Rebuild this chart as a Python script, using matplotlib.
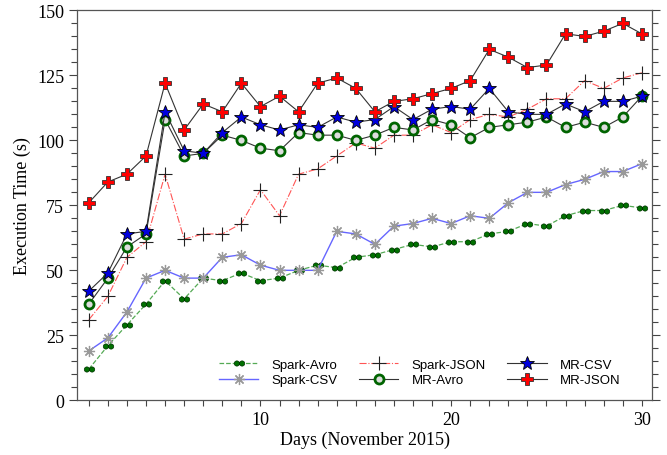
import matplotlib
matplotlib.use("Agg")
import matplotlib.pyplot as plt
import numpy as np
from matplotlib.path import Path
from matplotlib.ticker import MultipleLocator

days = np.arange(1, 31)

spark_avro = [12, 21, 29, 37, 46, 39, 47, 46, 49, 46, 47, 50, 52, 51, 55,
              56, 58, 60, 59, 61, 61, 64, 65, 68, 67, 71, 73, 73, 75, 74]
spark_csv = [19, 24, 34, 47, 50, 47, 47, 55, 56, 52, 50, 50, 50, 65, 64,
             60, 67, 68, 70, 68, 71, 70, 76, 80, 80, 83, 85, 88, 88, 91]
spark_json = [31, 40, 55, 61, 87, 62, 64, 64, 68, 81, 71, 87, 89, 94, 99,
              97, 102, 102, 106, 103, 108, 110, 109, 112, 116, 116, 123, 120, 124, 126]
mr_avro = [37, 47, 59, 64, 108, 94, 95, 102, 100, 97, 96, 103, 102, 102, 100,
           102, 105, 104, 108, 106, 101, 105, 106, 107, 109, 105, 107, 105, 109, 117]
mr_csv = [42, 49, 64, 65, 111, 96, 95, 103, 109, 106, 104, 106, 105, 109, 107,
          108, 113, 108, 112, 113, 112, 120, 111, 110, 110, 114, 111, 115, 115, 117]
mr_json = [76, 84, 87, 94, 122, 104, 114, 111, 122, 113, 117, 111, 122, 124, 120,
           111, 115, 116, 118, 120, 123, 135, 132, 128, 129, 141, 140, 142, 145, 141]

# two small dots side by side
c1 = Path.circle((-0.5, 0), 0.5)
c2 = Path.circle((0.5, 0), 0.5)
two_dots = Path.make_compound_path(c1, c2)

plt.rcParams['font.family'] = ['Liberation Serif', 'DejaVu Serif']

fig = plt.figure(figsize=(6.67, 4.56), dpi=100)
ax = fig.add_axes([0.116, 0.12, 0.862, 0.855])

ax.plot(days, spark_avro, '--', color='#55aa55', lw=0.9, marker=two_dots,
        ms=7.5, mfc='#007000', mec='#003300', mew=0.5, label='Spark-Avro')
ax.plot(days, spark_csv, '-', color='#6666ff', lw=1.0, marker=(8, 2, 0),
        ms=8, mec='#999999', mew=0.9, label='Spark-CSV')
ax.plot(days, spark_json, '-.', color='#ff5555', lw=0.8, marker='+',
        ms=10, mec='#222222', mew=0.8, label='Spark-JSON')
ax.plot(days, mr_avro, '-', color='#333333', lw=0.8, marker='o',
        ms=6.5, mfc='#dddddd', mec='#006400', mew=2.0, label='MR-Avro')
ax.plot(days, mr_csv, '-', color='#333333', lw=0.8, marker='*',
        ms=10, mfc='#0000dd', mec='black', mew=0.6, label='MR-CSV')
ax.plot(days, mr_json, '-', color='#333333', lw=0.8, marker='P',
        ms=9, mfc='red', mec='#333333', mew=0.6, label='MR-JSON')

ax.set_xlim(0.4, 30.55)
ax.set_ylim(0, 150)
ax.xaxis.set_major_locator(MultipleLocator(10))
ax.xaxis.set_minor_locator(MultipleLocator(1))
ax.yaxis.set_major_locator(MultipleLocator(25))
ax.yaxis.set_minor_locator(MultipleLocator(5))
ax.tick_params(axis='both', which='major', labelsize=13, direction='out',
               length=6, width=0.8, color='#444444')
ax.tick_params(axis='both', which='minor', direction='out', length=4,
               width=0.8, color='#444444')
ax.tick_params(axis='y', which='both', right=True)
ax.tick_params(axis='x', which='major', length=4)
for s in ax.spines.values():
    s.set_color('#555555')
    s.set_linewidth(0.9)

ax.set_xlabel('Days (November 2015)', fontsize=13, labelpad=2)
ax.set_ylabel('Execution Time (s)', fontsize=13, labelpad=4)

ax.legend(loc='lower right', bbox_to_anchor=(0.965, 0.005), ncol=3,
          frameon=False, prop={'family': 'Liberation Sans', 'size': 9.5},
          handlelength=3.0, handletextpad=1.0, columnspacing=1.6,
          labelspacing=0.25)

fig.savefig('out.png', dpi=100)
